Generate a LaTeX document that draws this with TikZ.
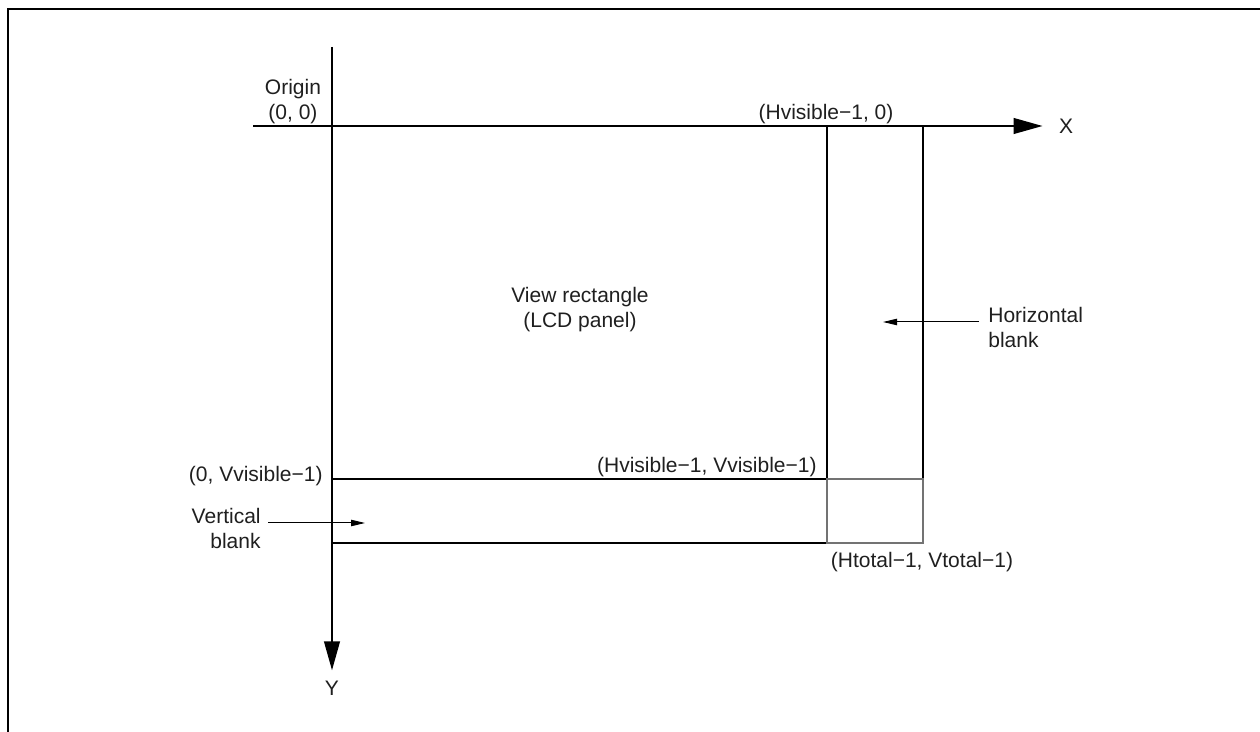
\documentclass[tikz,border=0pt]{standalone}
\usepackage{fontspec}
\setmainfont{Liberation Sans}
\usetikzlibrary{arrows.meta}

\tikzset{
    axis/.style={line width=1.15pt, -{Triangle[length=14.5pt,width=7.8pt]}},
    edge/.style={line width=0.9pt},
    faint/.style={line width=0.65pt, draw=black!55},
    pointer/.style={line width=0.5pt, -{Triangle[length=7pt,width=3.2pt]}},
    lbl/.style={inner sep=0pt, text=black!88, font=\fontsize{10.5}{12.5}\selectfont},
}

\begin{document}
\begin{tikzpicture}[x=0.5pt, y=-0.5pt]
        \useasboundingbox (0,0) rectangle (1260,732);
        % Frame
        \draw[line width=1.1pt] (8,732) -- (8,9) -- (1260,9);

        % Corners of the panel
        \coordinate (o) at (332,126);
        \coordinate (hv) at (827,126);
        \coordinate (ht) at (923,126);
        \coordinate (vv) at (332,479);
        \coordinate (hvvv) at (827,479);
        \coordinate (htvv) at (923,479);
        \coordinate (vt) at (332,543);
        \coordinate (hvvt) at (827,543);
        \coordinate (htvt) at (923,543);

        % Axes
        \coordinate (xstart) at (253,126);
        \coordinate (ystart) at (332,47);
        \node[lbl] (xlabel) at (1066,126) {X};
        \node[lbl] (ylabel) at (332,688) {Y};
        \draw[axis, shorten >=8pt] (xstart) -- (xlabel.west);
        \draw[axis, shorten >=5pt] (ystart) -- (ylabel.north);

        % View rectangle and blanks
        \draw[edge] (hv) -- (hvvv) -- (vv);
        \draw[edge] (ht) -- (htvv);
        \draw[edge] (vt) -- (hvvt);
        \draw[faint] (hvvv) -- (htvv) -- (htvt) -- (hvvt) -- cycle;

        % Labels
        \node[lbl, align=center] (origin) at (293,102) {Origin\\(0, 0)};
        \node[lbl, anchor=base] (hvzero) at (826,120) {(Hvisible−1, 0)};
        \node[lbl, align=center] (view) at (580,310) {View rectangle\\(LCD panel)};
        \node[lbl, anchor=east] (zerovv) at (323,476) {(0, Vvisible−1)};
        \node[lbl, anchor=base east] (hvvvlbl) at (817,473) {(Hvisible−1, Vvisible−1)};
        \node[lbl, anchor=base] (htvtlbl) at (922,568) {(Htotal−1, Vtotal−1)};
        \node[lbl, anchor=west, align=left] (hblank) at (988,327) {Horizontal\\blank};
        \node[lbl, anchor=east, align=right] (vblank) at (261,528) {Vertical\\blank};

        % Pointers
        \coordinate (hbtail) at (979,322);
        \coordinate (hbtip) at (883,322);
        \draw[pointer] (hbtail) -- (hbtip);
        \coordinate (vbtail) at (268,523);
        \coordinate (vbtip) at (365,523);
        \draw[pointer] (vbtail) -- (vbtip);
\end{tikzpicture}
\end{document}
